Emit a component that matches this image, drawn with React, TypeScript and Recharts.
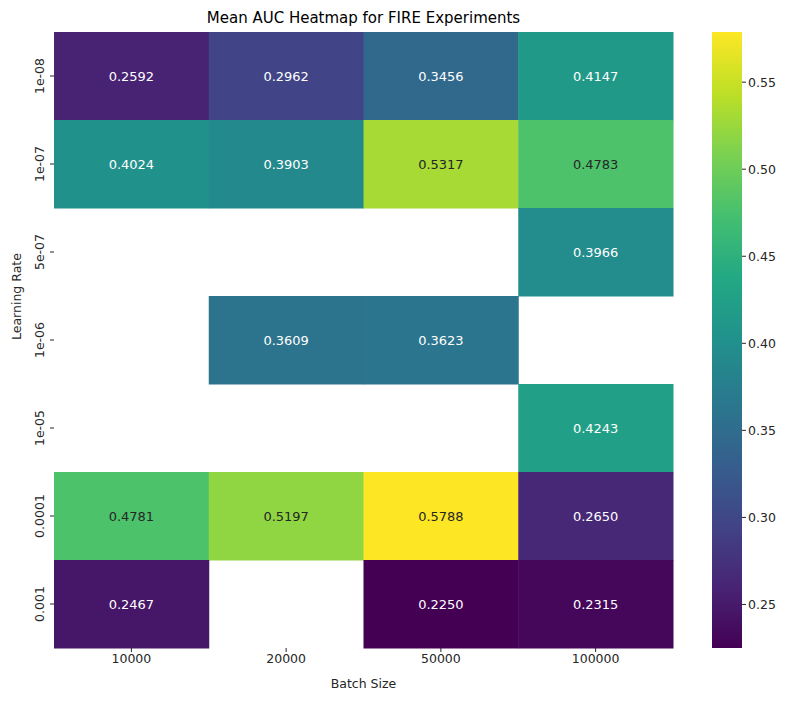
import React from 'react';
import { ScatterChart, Scatter, XAxis, YAxis, BarChart, Bar } from 'recharts';

const batchSizes = ['10000', '20000', '50000', '100000'];
const learningRates = ['1e-08', '1e-07', '5e-07', '1e-06', '1e-05', '0.0001', '0.001'];
// rows follow learningRates, columns follow batchSizes; null = no run
const aucRows: (number | null)[][] = [
  [0.2592, 0.2962, 0.3456, 0.4147],
  [0.4024, 0.3903, 0.5317, 0.4783],
  [null, null, null, 0.3966],
  [null, 0.3609, 0.3623, null],
  [null, null, null, 0.4243],
  [0.4781, 0.5197, 0.5788, 0.265],
  [0.2467, null, 0.225, 0.2315],
];
const colorbarTicks = [0.25, 0.3, 0.35, 0.4, 0.45, 0.5, 0.55];

const VMIN = 0.225;
const VMAX = 0.5788;
const FONT = 'DejaVu Sans, sans-serif';

const viridis = ['#440154', '#482475', '#414487', '#355f8d', '#2a788e', '#21918c', '#22a884', '#44bf70', '#7ad151', '#bddf26', '#fde725'];

const hex = (h: string) => [1, 3, 5].map((i) => parseInt(h.slice(i, i + 2), 16));
const colorAt = (t: number) => {
  const x = Math.max(0, Math.min(1, t)) * 10;
  const i = Math.min(9, Math.floor(x));
  const f = x - i;
  const a = hex(viridis[i]);
  const b = hex(viridis[i + 1]);
  return a.map((c, k) => Math.round(c + (b[k] - c) * f));
};
const fillFor = (v: number) => {
  const [r, g, b] = colorAt((v - VMIN) / (VMAX - VMIN));
  return `rgb(${r},${g},${b})`;
};
const textFor = (v: number) => {
  const [r, g, b] = colorAt((v - VMIN) / (VMAX - VMIN));
  return 0.299 * r + 0.587 * g + 0.114 * b > 128 ? '#262626' : '#ffffff';
};

const cells = aucRows.flatMap((row, ri) =>
  row
    .map((v, ci) => (v == null ? null : { x: ci + 0.5, y: ri + 0.5, v }))
    .filter((c): c is { x: number; y: number; v: number } => c !== null)
);

const W = 700;
const H = 690;
const margin = { top: 24, right: 35, left: 0, bottom: 10 };
const yAxisW = 46;
const xAxisH = 40;
const plotW = W - margin.left - margin.right - yAxisW;
const plotH = H - margin.top - margin.bottom - xAxisH;
const cellW = plotW / batchSizes.length;
const cellH = plotH / learningRates.length;

const Cell = (props: any) => {
  const { cx, cy, payload } = props;
  return (
    <g>
      <rect x={cx - cellW / 2} y={cy - cellH / 2} width={cellW + 0.5} height={cellH + 0.5} fill={fillFor(payload.v)} />
      <text x={cx} y={cy} textAnchor="middle" dominantBaseline="central" fontSize={13} fontFamily={FONT} fill={textFor(payload.v)}>
        {payload.v.toFixed(4)}
      </text>
    </g>
  );
};

const YTick = (props: any) => {
  const { x, y, payload } = props;
  const label = learningRates[Math.floor(payload.value)];
  return (
    <text x={x - 4} y={y} transform={`rotate(-90 ${x - 4} ${y})`} textAnchor="middle" fontSize={12.5} fontFamily={FONT} fill="#262626">
      {label}
    </text>
  );
};

const App = () => (
  <div style={{ position: 'relative', width: 785, height: 693, fontFamily: FONT }}>
    <div style={{ position: 'absolute', left: 0, top: 0 }}>
      <ScatterChart width={W} height={H} margin={margin}>
        <text x={margin.left + yAxisW + plotW / 2} y={10} textAnchor="middle" dominantBaseline="central" fontSize={15} fontFamily={FONT} fill="#000">
          Mean AUC Heatmap for FIRE Experiments
        </text>
        <XAxis
          type="number"
          dataKey="x"
          domain={[0, 4]}
          ticks={[0.5, 1.5, 2.5, 3.5]}
          tickFormatter={(v: number) => batchSizes[Math.floor(v)]}
          height={xAxisH}
          axisLine={false}
          tickSize={4}
          tick={{ fontSize: 12.5, fontFamily: FONT, fill: '#262626' }}
          stroke="#262626"
          label={{ value: 'Batch Size', position: 'insideBottom', offset: 0, fontSize: 12.5, fontFamily: FONT, fill: '#262626' }}
        />
        <YAxis
          type="number"
          dataKey="y"
          domain={[0, 7]}
          reversed
          ticks={[0.5, 1.5, 2.5, 3.5, 4.5, 5.5, 6.5]}
          width={yAxisW}
          axisLine={false}
          tickSize={4}
          tick={<YTick />}
          stroke="#262626"
          label={{ value: 'Learning Rate', angle: -90, position: 'insideLeft', offset: 9, fontSize: 12.5, fontFamily: FONT, fill: '#262626' }}
        />
        <Scatter data={cells} shape={<Cell />} isAnimationActive={false} />
      </ScatterChart>
    </div>
    <div style={{ position: 'absolute', left: 704, top: 0 }}>
      <BarChart width={100} height={H} data={[{ name: 'cb', range: [VMIN, VMAX] }]} margin={{ top: 24, right: 0, left: 0, bottom: 50 }} barCategoryGap={0}>
        <defs>
          <linearGradient id="vir" x1="0" y1="1" x2="0" y2="0">
            {viridis.map((c, i) => (
              <stop key={i} offset={`${i * 10}%`} stopColor={c} />
            ))}
          </linearGradient>
        </defs>
        <XAxis dataKey="name" hide />
        <YAxis
          orientation="right"
          type="number"
          domain={[VMIN, VMAX]}
          ticks={colorbarTicks}
          tickFormatter={(v: number) => v.toFixed(2)}
          width={70}
          axisLine={false}
          tickSize={4}
          stroke="#262626"
          tick={{ fontSize: 12.5, fontFamily: FONT, fill: '#262626' }}
        />
        <Bar dataKey="range" fill="url(#vir)" isAnimationActive={false} />
      </BarChart>
    </div>
  </div>
);

export default App;
